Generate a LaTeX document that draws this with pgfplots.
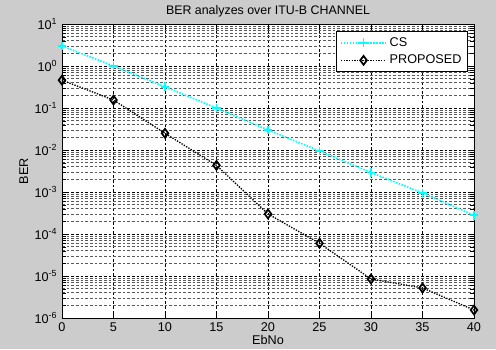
\documentclass[border=0pt]{standalone}
\usepackage{pgfplots}
\pgfplotsset{compat=1.18}
\usepackage{fontspec}
\setmainfont{Liberation Sans}
\definecolor{bggray}{RGB}{204,204,204}
\definecolor{cscyan}{RGB}{0,255,255}
\begin{document}
\begin{tikzpicture}[x=1pt,y=1pt]
\fill[bggray] (-46.5,-23.25) rectangle (325.5,238.5);
\begin{axis}[
  at={(0,0)}, anchor=south west,
  scale only axis,
  width=309pt, height=220.5pt,
  ymode=log,
  xmin=0, xmax=40, ymin=1e-6, ymax=10,
  xtick={0,5,...,40},
  ytick={1e-6,1e-5,1e-4,1e-3,1e-2,1e-1,1,10},
  yticklabels={10\textsuperscript{-6},10\textsuperscript{-5},10\textsuperscript{-4},10\textsuperscript{-3},10\textsuperscript{-2},10\textsuperscript{-1},10\textsuperscript{0},10\textsuperscript{1}},
  /pgf/number format/assume math mode=true,
  tick label style={font=\fontsize{9.5}{10}\selectfont, black},
  label style={font=\fontsize{9.5}{10}\selectfont},
  title style={font=\fontsize{9.3}{10}\selectfont, yshift=-4pt},
  title={BER analyzes over ITU-B CHANNEL},
  xlabel={EbNo}, ylabel={BER},
  xlabel style={yshift=4pt},
  ylabel style={yshift=-2pt},
  axis background/.style={fill=white},
  axis line style={black, line width=0.6pt},
  grid=both,
  major grid style={black, dash pattern=on 2pt off 1.5pt, line width=0.45pt},
  minor grid style={black!65, dash pattern=on 2pt off 1.5pt, line width=0.5pt},
  tick style={black},
  tick align=inside,
  legend style={at={(0.985,0.976)}, anchor=north east, draw=black, fill=white,
    font=\fontsize{9.5}{10}\selectfont, inner sep=2.5pt, row sep=1pt,
    line width=0.5pt},
  legend cell align=left,
  legend image code/.code={
    \draw[mark repeat=2,mark phase=2,#1] plot coordinates {(0pt,0pt) (17pt,0pt) (34pt,0pt)};
  },
]
\addplot[cscyan, densely dotted, line width=1.2pt, mark=+, mark size=3.3pt, mark options={solid, line width=1.3pt}]
coordinates {(0,3.0) (5,1.0) (10,0.32) (15,0.1) (20,0.03) (25,0.0095) (30,0.0029) (35,0.00095) (40,0.00028)};
\addlegendentry{CS}
\addplot[black, densely dotted, line width=1.0pt, mark=diamond, mark size=3.3pt, mark options={solid, line width=1.3pt}]
coordinates {(0,0.46) (5,0.155) (10,0.025) (15,0.0043) (20,0.0003) (25,0.00006) (30,0.0000085) (35,0.0000052) (40,0.00000155)};
\addlegendentry{PROPOSED}
\end{axis}
\end{tikzpicture}
\end{document}
